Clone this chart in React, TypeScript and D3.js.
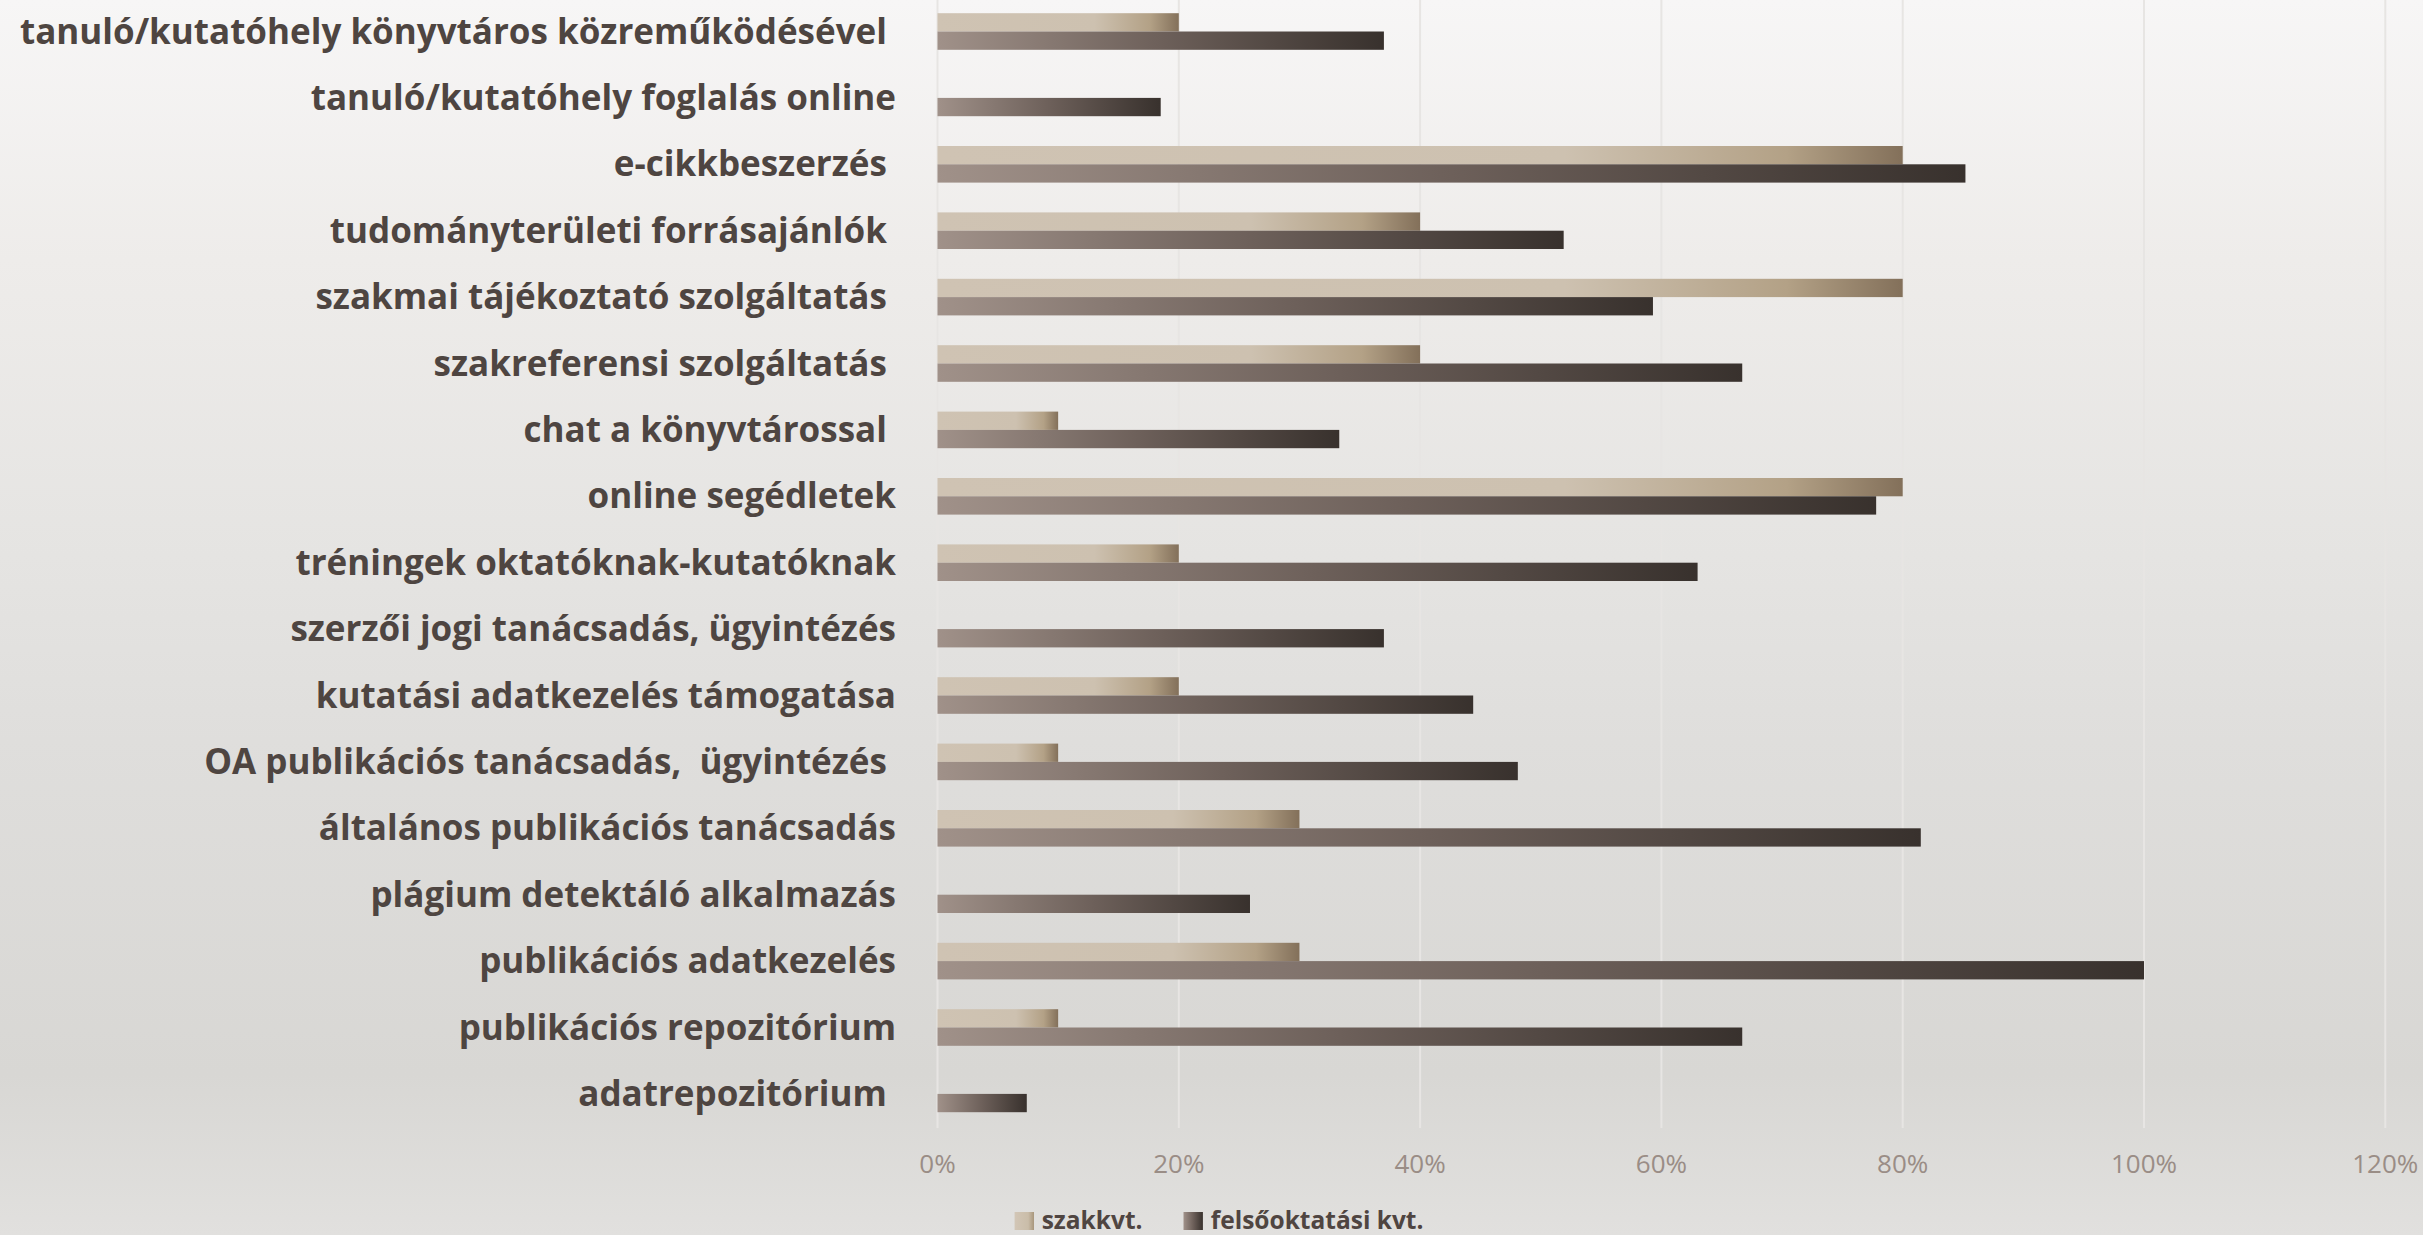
import React from "react";
import * as d3 from "d3";

const categories = [
  "tanuló/kutatóhely könyvtáros közreműködésével ",
  "tanuló/kutatóhely foglalás online",
  "e-cikkbeszerzés ",
  "tudományterületi forrásajánlók ",
  "szakmai tájékoztató szolgáltatás ",
  "szakreferensi szolgáltatás ",
  "chat a könyvtárossal ",
  "online segédletek",
  "tréningek oktatóknak-kutatóknak",
  "szerzői jogi tanácsadás, ügyintézés",
  "kutatási adatkezelés támogatása",
  "OA publikációs tanácsadás,  ügyintézés ",
  "általános publikációs tanácsadás",
  "plágium detektáló alkalmazás",
  "publikációs adatkezelés",
  "publikációs repozitórium",
  "adatrepozitórium ",
];

const szakkvt = [0.2, 0, 0.8, 0.4, 0.8, 0.4, 0.1, 0.8, 0.2, 0, 0.2, 0.1, 0.3, 0, 0.3, 0.1, 0];
const felsookt = [
  0.37, 0.185, 0.852, 0.519, 0.593, 0.667, 0.333, 0.778, 0.63, 0.37, 0.444, 0.481, 0.815, 0.259, 1.0,
  0.667, 0.074,
];

const seriesNames = ["szakkvt.", "felsőoktatási kvt."];
const tickValues = [0, 0.2, 0.4, 0.6, 0.8, 1.0, 1.2];

export default function App() {
  const W = 2423;
  const H = 1235;
  const x = d3.scaleLinear().domain([0, 1.2]).range([937.5, 2385.3]);
  const y = d3.scaleBand<string>().domain(categories).range([-1.7, 1127.1]).paddingInner(0).paddingOuter(0);
  const inner = d3
    .scaleBand<string>()
    .domain(seriesNames)
    .range([0, y.bandwidth()])
    .paddingInner(0)
    .paddingOuter(0.814);
  const fmt = d3.format(".0%");
  const gridBottom = 1128;
  const labelRight = 896;

  const series = [
    { name: seriesNames[0], values: szakkvt, fill: "url(#gSzak)" },
    { name: seriesNames[1], values: felsookt, fill: "url(#gFelso)" },
  ];

  const legendItems = [
    { name: seriesNames[0], fill: "url(#gSzakL)", sx: 1014.6, tx: 1041.7 },
    { name: seriesNames[1], fill: "url(#gFelso)", sx: 1183.5, tx: 1210.7 },
  ];

  return (
    <svg
      width={W}
      height={H}
      style={{ position: "absolute", left: 0, top: 0, display: "block" }}
      xmlns="http://www.w3.org/2000/svg"
    >
      <defs>
        <linearGradient id="bg" x1="0" y1="0" x2="0" y2="1">
          <stop offset="0" stopColor="#f7f6f6" />
          <stop offset="0.21" stopColor="#eeecea" />
          <stop offset="0.45" stopColor="#e5e4e2" />
          <stop offset="0.6" stopColor="#dfdedc" />
          <stop offset="0.87" stopColor="#d8d7d4" />
          <stop offset="1" stopColor="#e1e0de" />
        </linearGradient>
        <linearGradient id="gSzak" x1="0" y1="0" x2="1" y2="0">
          <stop offset="0" stopColor="#cfc3b3" />
          <stop offset="0.65" stopColor="#cdc1b0" />
          <stop offset="0.88" stopColor="#b3a186" />
          <stop offset="1" stopColor="#83705a" />
        </linearGradient>
        <linearGradient id="gSzakL" x1="0" y1="0" x2="1" y2="0">
          <stop offset="0" stopColor="#d2c6b6" />
          <stop offset="0.7" stopColor="#cabda9" />
          <stop offset="1" stopColor="#a8967c" />
        </linearGradient>
        <linearGradient id="gFelso" x1="0" y1="0" x2="1" y2="0">
          <stop offset="0" stopColor="#a09189" />
          <stop offset="0.5" stopColor="#6d605a" />
          <stop offset="1" stopColor="#38312d" />
        </linearGradient>
      </defs>

      <rect x={0} y={0} width={W} height={H} fill="url(#bg)" />

      {/* gridlines */}
      {tickValues.map((t) => (
        <line
          key={"g" + t}
          x1={x(t)}
          x2={x(t)}
          y1={0}
          y2={gridBottom}
          stroke="#e7e5e3"
          strokeWidth={2}
        />
      ))}

      {/* bars */}
      {series.map((s) =>
        categories.map((c, i) =>
          s.values[i] > 0 ? (
            <rect
              key={s.name + i}
              x={x(0)}
              y={(y(c) as number) + (inner(s.name) as number)}
              width={x(s.values[i]) - x(0)}
              height={inner.bandwidth()}
              fill={s.fill}
            />
          ) : null
        )
      )}

      {/* category labels */}
      {categories.map((c) => (
        <text
          key={"l" + c}
          x={labelRight}
          y={(y(c) as number) + y.bandwidth() / 2 + 12}
          textAnchor="end"
          fontFamily="'Open Sans', sans-serif"
          fontWeight={700}
          fontSize={35}
          fill="#4e4541"
          style={{ whiteSpace: "pre" }}
        >
          {c}
        </text>
      ))}

      {/* tick labels */}
      {tickValues.map((t) => (
        <text
          key={"t" + t}
          x={x(t)}
          y={1172.7}
          textAnchor="middle"
          fontFamily="'Open Sans', sans-serif"
          fontSize={26}
          fill="#9a8d86"
        >
          {fmt(t)}
        </text>
      ))}

      {/* legend */}
      {legendItems.map((l) => (
        <g key={"lg" + l.name}>
          <rect x={l.sx} y={1212} width={19.4} height={18} fill={l.fill} />
          <text
            x={l.tx}
            y={1228.5}
            fontFamily="'Open Sans', sans-serif"
            fontWeight={700}
            fontSize={24.5}
            fill="#4f4541"
          >
            {l.name}
          </text>
        </g>
      ))}
    </svg>
  );
}
